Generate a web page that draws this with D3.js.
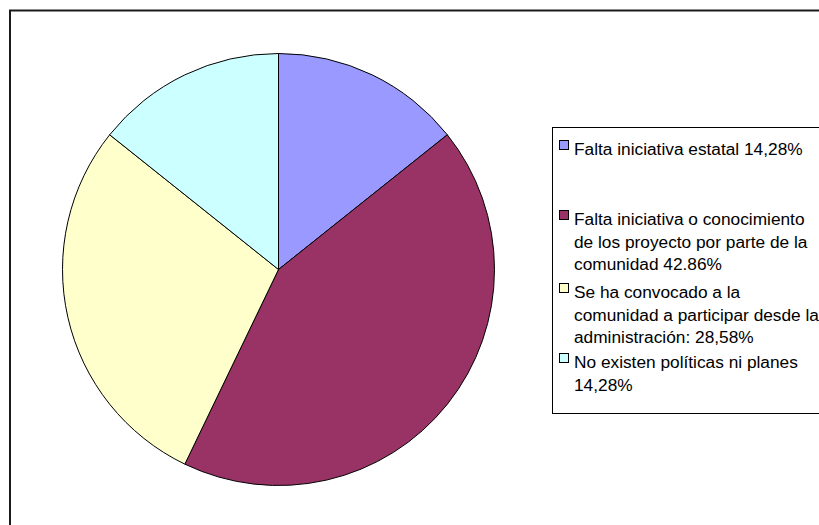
<!DOCTYPE html>
<html>
<head>
<meta charset="utf-8">
<script src="https://cdn.jsdelivr.net/npm/d3@7"></script>
<style>
  body { margin: 0; background: #fff; }
  text { font-family: "Liberation Sans", Arial, sans-serif; }
</style>
</head>
<body>
<div id="chart"></div>
<script>
// slice data
var categories = [
    "Falta iniciativa estatal 14,28%",
    "Falta iniciativa o conocimiento de los proyecto por parte de la comunidad 42.86%",
    "Se ha convocado a la comunidad a participar desde la administración: 28,58%",
    "No existen políticas ni planes 14,28%"
];
var values = [14.28, 42.86, 28.58, 14.28];
var colors = ["#9999ff", "#993366", "#ffffcc", "#ccffff"];
// legend text as it wraps in the picture
var legendLines = [
    ["Falta iniciativa estatal 14,28%"],
    ["Falta iniciativa o conocimiento", "de los proyecto por parte de la", "comunidad 42.86%"],
    ["Se ha convocado a la", "comunidad a participar desde la", "administración: 28,58%"],
    ["No existen políticas ni planes", "14,28%"]
];

function init() {
    var w = 819;
    var h = 525;

    var svg = d3.select("#chart")
        .append("svg")
        .attr("width", w)
        .attr("height", h);

    // outer chart frame (runs off the right and bottom)
    svg.append("rect")
        .attr("x", 10)
        .attr("y", 10.5)
        .attr("width", 830)
        .attr("height", 540)
        .attr("fill", "none")
        .attr("stroke", "#1a1a1a")
        .attr("stroke-width", 2);

    var cx = 278.5, cy = 269.5, r = 216;

    var pie = d3.pie().sort(null).value(function(d) { return d; });
    var arc = d3.arc().innerRadius(0).outerRadius(r);

    var g = svg.append("g")
        .attr("transform", "translate(" + cx + "," + cy + ")");

    g.selectAll("path")
        .data(pie(values))
        .enter()
        .append("path")
        .attr("d", arc)
        .attr("fill", function(d, i) { return colors[i]; })
        .attr("stroke", "#000")
        .attr("stroke-width", 1);

    // legend
    var lx = 552.5, ly = 127.5;
    svg.append("rect")
        .attr("x", lx)
        .attr("y", ly)
        .attr("width", 300)
        .attr("height", 286)
        .attr("fill", "#fff")
        .attr("stroke", "#000")
        .attr("stroke-width", 1);

    var rowBase = [155, 225, 298, 368];
    var lineH = 22.5;

    var rows = svg.selectAll(".legRow")
        .data(legendLines)
        .enter()
        .append("g")
        .attr("class", "legRow");

    rows.append("rect")
        .attr("x", 559.5)
        .attr("y", function(d, i) { return rowBase[i] - 14.5; })
        .attr("width", 9)
        .attr("height", 9)
        .attr("fill", function(d, i) { return colors[i]; })
        .attr("stroke", "#000")
        .attr("stroke-width", 1);

    rows.each(function(lines, i) {
        d3.select(this).selectAll("text")
            .data(lines)
            .enter()
            .append("text")
            .attr("x", 574)
            .attr("y", function(d, j) { return rowBase[i] + j * lineH; })
            .attr("font-size", 17.3)
            .attr("fill", "#000")
            .text(function(d) { return d; });
    });
}

window.onload = init;
</script>
</body>
</html>
